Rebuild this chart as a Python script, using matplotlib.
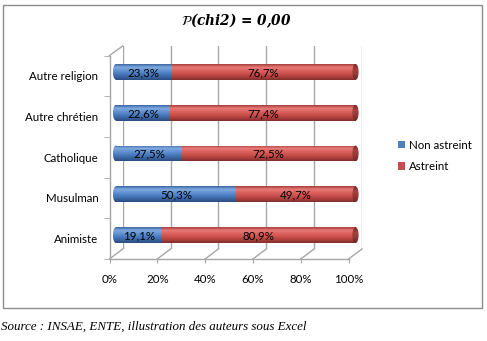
import numpy as np
import matplotlib
matplotlib.use("Agg")
import matplotlib.pyplot as plt
from matplotlib.colors import LinearSegmentedColormap
from matplotlib.patches import Rectangle, Ellipse
from matplotlib.lines import Line2D

# Data (bottom to top)
categories = ["Animiste", "Musulman", "Catholique", "Autre chrétien", "Autre religion"]
non_astreint = [19.1, 50.3, 27.5, 22.6, 23.3]
astreint = [80.9, 49.7, 72.5, 77.4, 76.7]
series_names = ["Non astreint", "Astreint"]
x_ticks = [0, 20, 40, 60, 80, 100]
x_tick_labels = ["0%", "20%", "40%", "60%", "80%", "100%"]

W, H = 487, 341
fig = plt.figure(figsize=(W / 100, H / 100), dpi=100)
fig.patch.set_facecolor("white")

FONT = "Lato"
FS = 8.3
GRID = "#a6a6a6"


def px_axes(x0, y_top, x1, y_bot, **kw):
    return fig.add_axes([x0 / W, 1 - y_bot / H, (x1 - x0) / W, (y_bot - y_top) / H], **kw)


# Back wall, mid plane (cylinders) and front plane of the pseudo-3D box
ax_back = px_axes(122.7, 46, 362, 249)
ax_front = px_axes(109.5, 55.5, 348.5, 259)
# the cylinder plane gets a small margin so the rounded ends are not clipped
MARGIN = 3.0
ppu = (355.5 - 116) / 100
ax_mid = px_axes(116 - MARGIN * ppu, 51.5, 355.5 + MARGIN * ppu, 255.5)
for a in (ax_back, ax_front):
    a.set_xlim(0, 100)
    a.set_ylim(-0.5, len(categories) - 0.5)
    a.patch.set_alpha(0)
ax_mid.patch.set_alpha(0)

ax_back.set_zorder(0)
ax_front.set_zorder(1)
ax_mid.set_zorder(2)

# Back wall gridlines
ax_back.set_axis_off()
for v in x_ticks:
    ax_back.axvline(v, color=GRID, lw=1.0)


def to_fig(ax, x, y):
    disp = ax.transData.transform((x, y))
    return fig.transFigure.inverted().transform(disp)


# Floor lines joining the front axis to the back wall, plus the wall top edge
for v in x_ticks:
    p0 = to_fig(ax_front, v, -0.5)
    p1 = to_fig(ax_back, v, -0.5)
    fig.add_artist(Line2D([p0[0], p1[0]], [p0[1], p1[1]], color=GRID, lw=1.0))
top = len(categories) - 0.5
p0 = to_fig(ax_front, 0, top)
p1 = to_fig(ax_back, 0, top)
fig.add_artist(Line2D([p0[0], p1[0]], [p0[1], p1[1]], color=GRID, lw=1.0))

# Front axes: ticks and labels
for s in ("top", "right"):
    ax_front.spines[s].set_visible(False)
for s in ("left", "bottom"):
    ax_front.spines[s].set_color(GRID)
    ax_front.spines[s].set_linewidth(1.0)
ax_front.set_xticks(x_ticks)
ax_front.set_xticklabels(x_tick_labels, fontsize=FS, family=FONT)
ax_front.tick_params(axis="x", length=3, color=GRID, pad=8)
ax_front.set_yticks(range(len(categories)))
ax_front.set_yticklabels(categories, fontsize=FS, family=FONT)
ax_front.tick_params(axis="y", length=0, pad=8)
ax_front.set_yticks(np.arange(-0.5, len(categories), 1.0), minor=True)
ax_front.tick_params(axis="y", which="minor", length=4, color=GRID)

# Cylinder shading
blue_cmap = LinearSegmentedColormap.from_list(
    "blue_cyl", ["#3d67a3", "#7fa9e0", "#6393d2", "#4b7cc0", "#3a65a3", "#2a4d82"])
red_cmap = LinearSegmentedColormap.from_list(
    "red_cyl", ["#a53f3c", "#e77a77", "#dc625f", "#cc514e", "#ae3f3c", "#80302d"])
cap_cmap = LinearSegmentedColormap.from_list(
    "red_cap", ["#7a2a28", "#a5413e", "#93383a", "#6e2422"])
grad = np.linspace(0, 1, 64)[:, None]

bar_h = 0.39
cap_w = 2.6
ax_mid.set_axis_off()


def shade(patch, x0, x1, y0, y1, cmap, z):
    ax_mid.add_patch(patch)
    im = ax_mid.imshow(grad, extent=(x0, x1, y0, y1), aspect="auto",
                       cmap=cmap, zorder=z, interpolation="bilinear")
    im.set_clip_path(patch)


for i, (b, r) in enumerate(zip(non_astreint, astreint)):
    y0, y1 = i - bar_h / 2, i + bar_h / 2
    # left rounded end (blue)
    e_left = Ellipse((0, i), cap_w, bar_h, facecolor="none", edgecolor="none")
    shade(e_left, -cap_w / 2, cap_w / 2, y0, y1, blue_cmap, 2)
    # blue body
    rb = Rectangle((0, y0), b, bar_h, facecolor="none", edgecolor="none")
    shade(rb, 0, b, y0, y1, blue_cmap, 3)
    # red body
    rr = Rectangle((b, y0), r, bar_h, facecolor="none", edgecolor="none")
    shade(rr, b, b + r, y0, y1, red_cmap, 3)
    # right end face
    e_right = Ellipse((b + r, i), cap_w, bar_h, facecolor="none", edgecolor="none")
    shade(e_right, b + r - cap_w / 2, b + r + cap_w / 2, y0, y1, cap_cmap, 4)
    # value labels
    ax_mid.text(b / 2, i - 0.02, f"{b:.1f}%".replace(".", ","), ha="center", va="center",
                fontsize=FS, family=FONT, color="black", zorder=6)
    ax_mid.text(b + r / 2, i - 0.02, f"{r:.1f}%".replace(".", ","), ha="center", va="center",
                fontsize=FS, family=FONT, color="black", zorder=6)

ax_mid.set_xlim(-MARGIN, 100 + MARGIN)
ax_mid.set_ylim(-0.5, len(categories) - 0.5)

# Legend
handles = [Rectangle((0, 0), 1, 1, facecolor="#4f81bd", edgecolor="none"),
           Rectangle((0, 0), 1, 1, facecolor="#c0504d", edgecolor="none")]
fig.legend(handles, series_names, loc="center left",
           bbox_to_anchor=(398 / W, 1 - 156 / H), frameon=False,
           prop={"family": FONT, "size": FS}, handlelength=0.6, handleheight=0.6,
           handletextpad=0.35, labelspacing=0.9, borderaxespad=0, borderpad=0)

# Title
fig.text(236 / W, 1 - 21 / H, r"$\mathcal{P}$(chi2) = 0,00", ha="center", va="center",
         fontsize=9.8, fontstyle="italic", fontweight="bold", family="DejaVu Serif")

# Outer chart frame
fig.add_artist(Rectangle((3 / W, 1 - 308 / H), 479 / W, 303 / H, transform=fig.transFigure,
                         facecolor="none", edgecolor="#8c8c8c", lw=1.0))

# Source note
fig.text(1 / W, 1 - 327 / H, "Source : INSAE, ENTE, illustration des auteurs sous Excel",
         ha="left", va="center", fontsize=9.4, fontstyle="italic", family="Liberation Serif")

fig.savefig("out.png", dpi=100, facecolor="white")
